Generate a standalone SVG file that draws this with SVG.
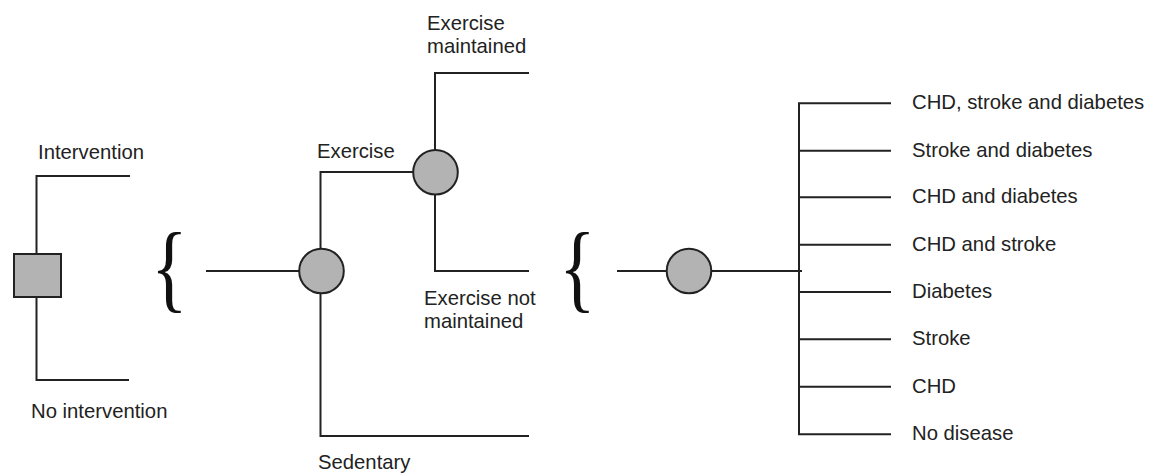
<svg xmlns="http://www.w3.org/2000/svg" width="1149" height="473" viewBox="0 0 1149 473">
  <style>
    .ln { stroke: #222; stroke-width: 2; fill: none; stroke-linecap: square; }
    .chance { fill: #b3b3b3; stroke: #222; stroke-width: 2; }
    .decision { fill: #b3b3b3; stroke: #222; stroke-width: 2; }
    .lbl { font-family: "Liberation Sans", Arial, sans-serif; font-size: 20.3px; fill: #222; }
    .brace { font-family: "Liberation Serif", "Times New Roman", serif; font-size: 98px; fill: #111; }
  </style>
  <rect width="1149" height="473" fill="#ffffff"/>

  <!-- connectors -->
  <g id="connectors">
    <!-- decision branches -->
    <path class="ln" d="M129 176 H36.5 V380 H128"/>
    <!-- chance node 1 -->
    <path class="ln" d="M207 271 H299"/>
    <path class="ln" d="M413 172 H320.5 V436 H528"/>
    <!-- chance node 2 -->
    <path class="ln" d="M528 73 H435 V271 H528"/>
    <!-- chance node 3 and outcomes -->
    <path class="ln" d="M618 271 H801"/>
    <path class="ln" d="M890 103.3 H799 V434.3 H890"/>
    <path class="ln" d="M799 150.7 H890 M799 197.3 H890 M799 244.7 H890 M799 292 H890 M799 339.3 H890 M799 386.7 H890"/>
  </g>

  <!-- braces -->
  <g id="brace1"><text class="brace" transform="translate(151,300) scale(0.78,1)" x="0" y="0">{</text></g>
  <g id="brace2"><text class="brace" transform="translate(559,300) scale(0.78,1)" x="0" y="0">{</text></g>

  <!-- decision node -->
  <g id="decision">
    <rect class="decision" x="14" y="254" width="47" height="43"/>
  </g>

  <!-- chance nodes -->
  <g id="chance1"><circle class="chance" cx="321.5" cy="271" r="22.3"/></g>
  <g id="chance2"><circle class="chance" cx="435.5" cy="172.3" r="22.3"/></g>
  <g id="chance3"><circle class="chance" cx="689" cy="271" r="22.3"/></g>

  <!-- branch labels -->
  <g id="labels">
    <text class="lbl" x="38" y="159">Intervention</text>
    <text class="lbl" x="31" y="418">No intervention</text>
    <text class="lbl" x="317" y="158">Exercise</text>
    <text class="lbl" x="318" y="469">Sedentary</text>
    <text class="lbl" x="427" y="30">Exercise</text>
    <text class="lbl" x="427" y="53">maintained</text>
    <text class="lbl" x="424" y="305">Exercise not</text>
    <text class="lbl" x="424" y="328">maintained</text>
  </g>

  <!-- outcome labels -->
  <g id="outcomes">
    <text class="lbl" x="912" y="109.3">CHD, stroke and diabetes</text>
    <text class="lbl" x="912" y="156.7">Stroke and diabetes</text>
    <text class="lbl" x="912" y="203.3">CHD and diabetes</text>
    <text class="lbl" x="912" y="250.7">CHD and stroke</text>
    <text class="lbl" x="912" y="298">Diabetes</text>
    <text class="lbl" x="912" y="345.3">Stroke</text>
    <text class="lbl" x="912" y="392.7">CHD</text>
    <text class="lbl" x="912" y="440.3">No disease</text>
  </g>
</svg>
